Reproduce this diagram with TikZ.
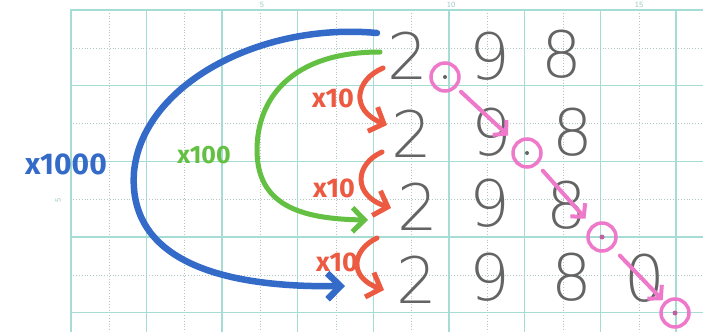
\documentclass[tikz,border=0pt]{standalone}
\usepackage{fontspec}
\usepackage{xcolor}
\usepackage{tikz}
\usetikzlibrary{arrows.meta, positioning}

\newfontfamily\digitfont{DejaVu Sans ExtraLight}
\newfontfamily\penfont{Fira Sans}

\definecolor{gridcyan}{RGB}{165,220,212}
\definecolor{dotgrey}{RGB}{178,198,198}
\definecolor{inkgrey}{RGB}{100,100,100}
\definecolor{penblue}{RGB}{52,106,200}
\definecolor{pengreen}{RGB}{100,192,66}
\definecolor{penred}{RGB}{236,90,66}
\definecolor{penpink}{RGB}{238,120,202}

\begin{document}
\begin{tikzpicture}[
    x=1pt, y=-1pt,
    major/.style={draw=gridcyan, line width=1.3pt},
    minor/.style={draw=dotgrey, line width=0.8pt, dotted},
    pagenum/.style={font=\sffamily\fontsize{8}{8}\selectfont, text=gridcyan!80!gray, inner sep=0pt},
    digit/.style={font=\digitfont\fontsize{64}{64}\selectfont, text=inkgrey, inner sep=0pt},
    penlabel/.style={font=\penfont\bfseries\fontsize{#1}{#1}\selectfont, inner sep=0pt},
    pointmark/.style={circle, draw=penpink, line width=3.5pt, minimum size=28pt, inner sep=0pt},
    bluepen/.style={draw=penblue, line width=6.5pt, line cap=round, line join=round,
        -{Straight Barb[length=13pt, width=26pt]}},
    greenpen/.style={draw=pengreen, line width=5pt, line cap=round, line join=round,
        -{Straight Barb[length=12pt, width=24pt]}},
    redpen/.style={draw=penred, line width=5pt, line cap=round, line join=round,
        -{Straight Barb[length=12pt, width=26pt]}},
    pinkpen/.style={draw=penpink, line width=4pt, line cap=round, line join=round,
        -{Straight Barb[length=9pt, width=20pt]}},
]
\useasboundingbox (0,0) rectangle (703,332);
\fill[white] (0,0) rectangle (703,332);

% Grid paper
\foreach \gx in {0,...,8} {
    \draw[minor] ({109+75.7*\gx},10) -- ({109+75.7*\gx},332);
    \draw[major] ({70.5+75.7*\gx},10) -- ({70.5+75.7*\gx},332);
}
\foreach \gy in {0,...,3} {
    \draw[minor] (70.5,{48+75.7*\gy}) -- (703,{48+75.7*\gy});
    \draw[major] (70.5,{85.7+75.7*\gy}) -- (703,{85.7+75.7*\gy});
}
\draw[major, line width=2pt] (70.5,332) -- (70.5,10) -- (703,10);
\node[pagenum, anchor=base] (num5) at (262,7.5) {5};
\node[pagenum, anchor=base] (num10) at (451,7.5) {10};
\node[pagenum, anchor=base] (num15) at (639,7.5) {15};
\node[pagenum, rotate=90] (side5) at (58,200) {5};

% Rows of digits
\node[digit] (two1) at (408,56) {2};
\node[digit] (nine1) at (490,56) {9};
\node[digit] (eight1) at (562,54) {8};

\node[digit] (two2) at (412,134) {2};
\node[digit] (nine2) at (492,132) {9};
\node[digit] (eight2) at (573,132) {8};

\node[digit] (two3) at (418,207) {2};
\node[digit] (nine3) at (490,203) {9};
\node[digit] (eight3) at (567,205) {8};

\node[digit] (two4) at (417,280) {2};
\node[digit] (nine4) at (490,277) {9};
\node[digit] (eight4) at (572,277) {8};
\node[digit] (zero4) at (645,278) {0};

% Decimal point moves
\node[pointmark] (pt1) at (445,77) {};
\node[pointmark] (pt2) at (527,153) {};
\node[pointmark] (pt3) at (602,237) {};
\node[pointmark] (pt4) at (675,313) {};
\fill[inkgrey] (pt1) circle (2pt);
\fill[inkgrey] (pt2) circle (2pt);
\fill[penpink!80!black] (pt3) circle (2.5pt);
\fill[penpink!80!black] (pt4) circle (2.5pt);
\draw[pinkpen, shorten <=6pt, shorten >=10pt] (pt1) -- (pt2);
\draw[pinkpen, shorten <=8pt, shorten >=9pt] (pt2) -- (pt3);
\draw[pinkpen, shorten <=10pt, shorten >=2pt] (pt3) -- (pt4);

% x10 steps
\coordinate (redA1) at (383,68);
\coordinate (redB1) at (387,125);
\coordinate (redA2) at (382,152);
\coordinate (redB2) at (391,208);
\coordinate (redA3) at (377,238);
\coordinate (redB3) at (384,290);
\draw[redpen] (redA1) .. controls (355,80) and (350,110) .. (redB1);
\draw[redpen] (redA2) .. controls (355,164) and (352,195) .. (redB2);
\draw[redpen] (redA3) .. controls (352,250) and (348,277) .. (redB3);
\node[penlabel=27, text=penred] (ten1) at (333,98) {x10};
\node[penlabel=27, text=penred] (ten2) at (334,188) {x10};
\node[penlabel=27, text=penred] (ten3) at (337,262) {x10};

% x100
\coordinate (greenA) at (380,52);
\coordinate (greenB) at (368,220);
\draw[greenpen] (greenA) .. controls (290,52) and (257,100) .. (257,150)
    .. controls (257,205) and (300,219) .. (greenB);
\node[penlabel=25, text=pengreen] (hundred) at (204,155) {x100};

% x1000
\coordinate (blueA) at (377,33);
\coordinate (blueB) at (345,286);
\draw[bluepen] (blueA) .. controls (260,22) and (142,85) .. (134,172)
    .. controls (128,255) and (210,288) .. (blueB);
\node[penlabel=30, text=penblue] (thousand) at (66,164) {x1000};
\end{tikzpicture}
\end{document}
